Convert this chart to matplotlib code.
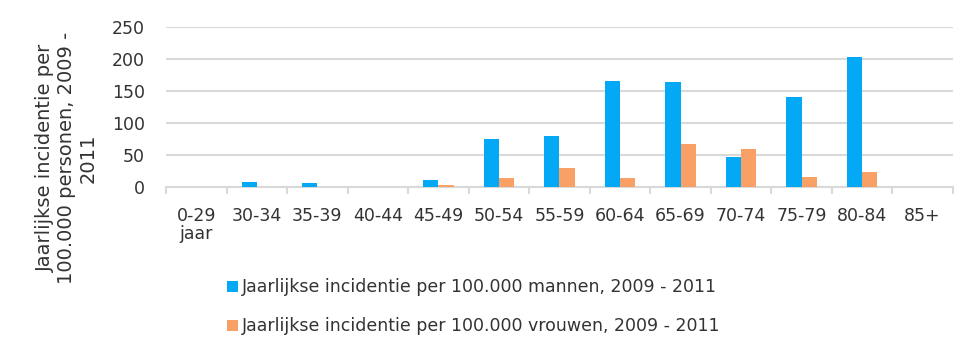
import matplotlib.pyplot as plt
import numpy as np

plt.rcParams['font.family'] = ['DejaVu Sans']

categories = ['0-29\njaar', '30-34', '35-39', '40-44', '45-49', '50-54', '55-59',
              '60-64', '65-69', '70-74', '75-79', '80-84', '85+']
mannen = [0, 8.3, 6.7, 0, 11.4, 75.2, 79.9, 165.5, 163.9, 47.2, 140.6, 202.8, 0]
vrouwen = [0, 0, 0, 0, 3.6, 14.5, 30.1, 14.5, 67.4, 59.6, 16.1, 23.9, 0]
yticks = [0, 50, 100, 150, 200, 250]

blue = '#03A9F4'
orange = '#F9A066'
grey = '#d9d9d9'
txt = '#333333'

fig = plt.figure(figsize=(9.8, 3.59), dpi=100)
ax = fig.add_axes([0.1694, 0.4783, 0.803, 0.4473])

x = np.arange(len(categories))
w = 0.25
b1 = ax.bar(x - w / 2, mannen, w, color=blue, zorder=3)
b2 = ax.bar(x + w / 2, vrouwen, w, color=orange, zorder=3)

ax.set_xlim(-0.5, len(categories) - 0.5)
ax.set_ylim(0, 250)
ax.set_yticks(yticks)
ax.yaxis.grid(True, color=grey, linewidth=1.5, zorder=0)
ax.set_axisbelow(True)
for s in ['top', 'right', 'left']:
    ax.spines[s].set_visible(False)
ax.spines['bottom'].set_color(grey)
ax.spines['bottom'].set_linewidth(1.5)

ax.set_xticks(x)
ax.set_xticklabels(categories, fontsize=12.5, color=txt, linespacing=1.0)
ax.set_xticks(np.arange(-0.5, len(categories)), minor=True)
ax.tick_params(axis='x', which='major', length=0, pad=14)
ax.tick_params(axis='x', which='minor', length=5, width=1.5, color=grey)
ax.tick_params(axis='y', length=0, pad=15, labelsize=12.5, labelcolor=txt)

fig.text(0.068, 0.56, 'Jaarlijkse incidentie per\n100.000 personen, 2009 -\n2011',
         rotation=90, ha='center', va='center', fontsize=14, color=txt,
         multialignment='center', linespacing=1.15)

fig.legend([b1, b2],
           ['Jaarlijkse incidentie per 100.000 mannen, 2009 - 2011',
            'Jaarlijkse incidentie per 100.000 vrouwen, 2009 - 2011'],
           loc='upper left', bbox_to_anchor=(0.216, 0.268), frameon=False,
           handlelength=0.6, handleheight=0.6, handletextpad=0.25,
           labelspacing=1.2, fontsize=12.5, labelcolor=txt)

fig.savefig('out.png', dpi=100)
